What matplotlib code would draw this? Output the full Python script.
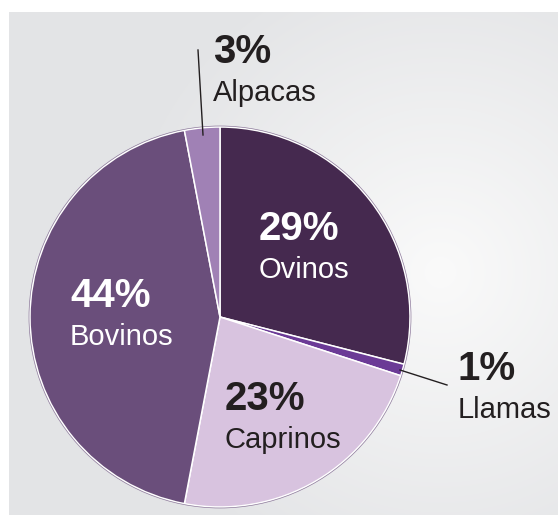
import numpy as np
import matplotlib

matplotlib.use("Agg")  # headless
import matplotlib.pyplot as plt
from matplotlib.colors import LinearSegmentedColormap
from matplotlib.patches import Circle

# data, clockwise from 12 o'clock
categories = ["Ovinos", "Llamas", "Caprinos", "Bovinos", "Alpacas"]
shares = [29, 1, 23, 44, 3]
colors = ["#45294f", "#6b3a96", "#d8c3df", "#6a4e7b", "#a081b5"]
pct_labels = [f"{v}%" for v in shares]

W, H = 558, 515
plt.rcParams["font.family"] = ["Liberation Sans Narrow", "Liberation Sans", "DejaVu Sans"]

fig = plt.figure(figsize=(W / 100, H / 100), dpi=100)
ax = fig.add_axes([0, 0, 1, 1])

# grey panel with soft radial highlight
yy, xx = np.mgrid[0:H - 12, 9:W]
d = np.hypot((xx - 440) / 330.0, (yy - 260) / 330.0)
bg = np.clip(d, 0, 1)
cmap = LinearSegmentedColormap.from_list("bg", ["#fafafa", "#e3e4e6"])
ax.imshow(bg, cmap=cmap, extent=(9, W, 0, H - 12), origin="upper", zorder=0)

cx, cy, r = 220, 317, 190
wedges, _ = ax.pie(shares, colors=colors, startangle=90, counterclock=False,
                   center=(cx, H - cy), radius=r,
                   wedgeprops=dict(edgecolor="white", linewidth=1.1))
for w in wedges:
    w.set_zorder(2)
ax.add_patch(Circle((cx, H - cy), r + 1.0, fill=False, edgecolor="#8e7a9c",
                    linewidth=0.5, zorder=3))

ax.set_xlim(0, W)
ax.set_ylim(0, H)
ax.axis("off")

# label anchors (left x, baseline of percentage) in pixel coords
label_pos = {
    "Ovinos": (259, 240, "white"),
    "Bovinos": (70, 307, "white"),
    "Caprinos": (225, 410, "#231f20"),
    "Llamas": (458, 380, "#231f20"),
    "Alpacas": (213, 63, "#231f20"),
}
for cat, pct in zip(categories, pct_labels):
    x, yb, c = label_pos[cat]
    ax.text(x, H - yb, pct, fontsize=29, fontweight="bold", color=c,
            ha="left", va="baseline", zorder=5)
    ax.text(x, H - (yb + 38), cat, fontsize=21, color=c,
            ha="left", va="baseline", zorder=5)

# leader lines for the thin slices
ax.plot([198, 203], [H - 50, H - 135], color="#231f20", lw=1, zorder=4)
ax.plot([400, 447], [H - 370, H - 385], color="#231f20", lw=1, zorder=4)

fig.savefig("out.png", dpi=100, facecolor="white")
